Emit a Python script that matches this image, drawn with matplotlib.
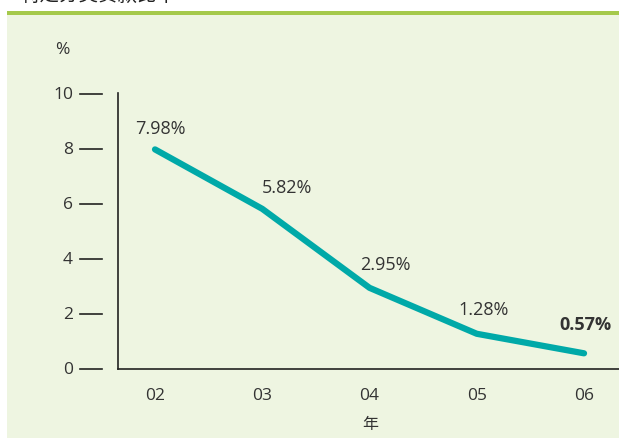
import matplotlib.pyplot as plt
from matplotlib.patches import Rectangle

plt.rcParams['font.family'] = ['Open Sans', 'Noto Sans CJK SC', 'DejaVu Sans']

years = ['02', '03', '04', '05', '06']
ratios = [7.98, 5.82, 2.95, 1.28, 0.57]
yticks = [0, 2, 4, 6, 8, 10]
title = '特定分类贷款比率'

# label offsets (pixels) from each point
label_offsets = [(5, 21), (25, 22), (16, 24), (7, 25), (1, 29)]

W, H = 619, 439
fig = plt.figure(figsize=(W / 100, H / 100), dpi=100)
fig.patch.set_facecolor('white')

# light green panel and the green rule above it
fig.patches.append(Rectangle((7 / W, 0), 1, (H - 16) / H, transform=fig.transFigure,
                             facecolor='#eef5e1', edgecolor='none', zorder=-2))
fig.patches.append(Rectangle((7 / W, (H - 16) / H), 1, 4 / H, transform=fig.transFigure,
                             facecolor='#a5c94b', edgecolor='none', zorder=-2))
fig.text(20 / W, 1 - 1 / H, title, fontsize=14, color='#222222', va='baseline', ha='left',
         family=['Noto Sans CJK SC', 'DejaVu Sans'])

ax = fig.add_axes([118 / W, (H - 370) / H, (W - 118) / W, (370 - 94) / H])
ax.patch.set_alpha(0)

x = list(range(len(years)))
ax.plot(x, ratios, color='#00a9a8', lw=4.5, solid_capstyle='round', solid_joinstyle='round',
        clip_on=False, zorder=3)

for i, (v, (dx, dy)) in enumerate(zip(ratios, label_offsets)):
    bold = i == len(ratios) - 1
    ax.annotate(f'{v:.2f}%', (i, v), xytext=(dx * 0.72, dy * 0.72), textcoords='offset points',
                ha='center', va='center', fontsize=13, color='#333333',
                fontweight='bold' if bold else 'normal')

ax.set_xlim(-0.345, 4.326)
ax.set_ylim(0, 10.03)

for s in ['top', 'right']:
    ax.spines[s].set_visible(False)
for s in ['left', 'bottom']:
    ax.spines[s].set_color('#222222')
    ax.spines[s].set_linewidth(1.2)

ax.set_xticks(x)
ax.set_xticklabels(years)
ax.tick_params(axis='x', length=0, pad=13, labelsize=12.5, labelcolor='#333333')
ax.set_yticks([])

# detached y tick marks and labels
aw = W - 118
ytr = ax.get_yaxis_transform()
for t in yticks:
    ax.plot([(80 - 118) / aw, (102 - 118) / aw], [t, t], transform=ytr, color='#222222',
            lw=1.2, clip_on=False)
    ax.text((73 - 118) / aw, t, str(t), transform=ytr, ha='right', va='center',
            fontsize=12.5, color='#333333')

fig.text(62 / W, 1 - 50 / H, '%', ha='center', va='center', fontsize=12.5, color='#333333')
fig.text(370 / W, 1 - 425 / H, '年', ha='center', va='center', fontsize=11.5, color='#333333',
         family=['Noto Sans CJK SC', 'DejaVu Sans'])

fig.savefig('out.png', dpi=100)
